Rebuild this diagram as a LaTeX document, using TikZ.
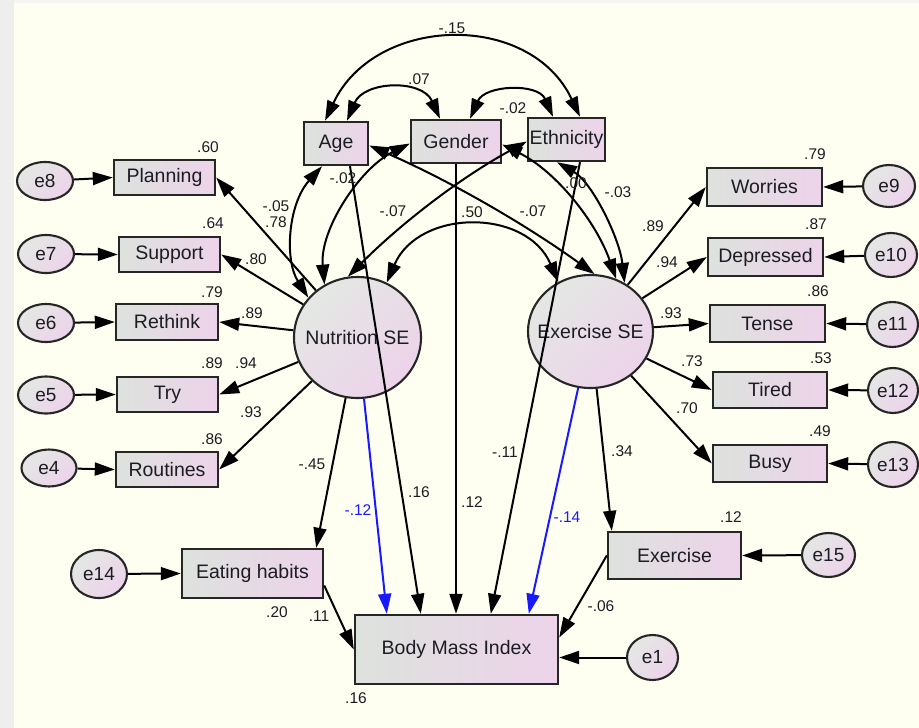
\documentclass[tikz,border=0pt]{standalone}
\usepackage{fontspec}
\setmainfont{Liberation Sans}
\usetikzlibrary{arrows.meta,shapes.geometric}

\definecolor{bg}{RGB}{254,255,240}
\definecolor{strip}{RGB}{238,238,238}
\definecolor{boxL}{RGB}{221,226,221}
\definecolor{boxR}{RGB}{237,211,234}
\definecolor{edge}{RGB}{38,38,38}
\definecolor{ink}{RGB}{28,28,36}
\definecolor{pathblue}{RGB}{25,25,255}

\tikzset{
  obs/.style={rectangle, draw=edge, line width=2.4pt, left color=boxL, right color=boxR,
              inner sep=0pt, text=ink, font=\fontsize{19.5}{22}\selectfont},
  lat/.style={ellipse, draw=edge, line width=2.1pt, top color=boxL!80!white, bottom color=boxR,
              shading angle=45, inner sep=0pt, text=ink, font=\fontsize{19.5}{22}\selectfont},
  err/.style={ellipse, draw=edge, line width=2.1pt, top color=boxL!80!white, bottom color=boxR,
              shading angle=45, inner sep=0pt, text=ink, font=\fontsize{19}{22}\selectfont},
  arr/.style={->, line width=2pt, draw=black},
  bluearr/.style={->, line width=2pt, draw=pathblue},
  cov/.style={<->, line width=2pt, draw=black},
  est/.style={inner sep=0pt, text=ink, font=\fontsize{15.5}{17}\selectfont},
  bluest/.style={est, text=pathblue},
}

\begin{document}
\begin{tikzpicture}[x=1pt, y=-1pt, >={Triangle[length=20pt,width=13pt]}]
\useasboundingbox (0,0) rectangle (919,728);
\fill[bg] (0,0) rectangle (919,728);
\fill[strip] (0,0) rectangle (14,728);
\fill[white!96!black] (14,0) rectangle (919,3);

% exogenous covariates
\node[obs, minimum width=64pt, minimum height=43pt] (age) at (336,143.5) {Age};
\node[obs, minimum width=90pt, minimum height=43pt] (gender) at (456,141.5) {Gender};
\node[obs, minimum width=77pt, minimum height=43pt] (eth) at (566.5,139.5) {Ethnicity};

% latent factors
\node[lat, minimum width=127pt, minimum height=121pt] (nut) at (357.5,337.5) {\makebox[0pt]{Nutrition SE}};
\node[lat, minimum width=125pt, minimum height=113pt] (ex) at (590.5,331.5) {\makebox[0pt]{Exercise SE}};

% nutrition indicators
\node[obs, minimum width=101pt, minimum height=35pt] (planning) at (164.5,177.5) {Planning};
\node[obs, minimum width=101pt, minimum height=35pt] (support) at (169.5,254.5) {Support};
\node[obs, minimum width=102pt, minimum height=36pt] (rethink) at (167,322) {Rethink};
\node[obs, minimum width=101pt, minimum height=35pt] (try) at (167.5,394.5) {Try};
\node[obs, minimum width=102pt, minimum height=35pt] (routines) at (167,469.5) {Routines};

% exercise indicators
\node[obs, minimum width=115pt, minimum height=38pt] (worries) at (764.5,187) {Worries};
\node[obs, minimum width=115pt, minimum height=38pt] (depressed) at (765.5,257) {Depressed};
\node[obs, minimum width=115pt, minimum height=37pt] (tense) at (767.5,323.5) {Tense};
\node[obs, minimum width=114pt, minimum height=36pt] (tired) at (770,390) {Tired};
\node[obs, minimum width=114pt, minimum height=37pt] (busy) at (770,463.5) {Busy};

% behaviours and outcome
\node[obs, minimum width=141pt, minimum height=49pt] (eat) at (252.5,573.5) {Eating habits};
\node[obs, minimum width=133pt, minimum height=47pt] (exer) at (674.5,555.5) {Exercise};
\node[obs, minimum width=203pt, minimum height=69pt] (bmi) at (456.5,649.5) {Body Mass Index};

% error terms
\node[err, minimum width=56pt, minimum height=38pt] (e8) at (45,181) {e8};
\node[err, minimum width=56pt, minimum height=38pt] (e7) at (46,254) {e7};
\node[err, minimum width=56pt, minimum height=38pt] (e6) at (46,323) {e6};
\node[err, minimum width=56pt, minimum height=37pt] (e5) at (46,395) {e5};
\node[err, minimum width=55pt, minimum height=37pt] (e4) at (49,468) {e4};
\node[err, minimum width=52pt, minimum height=42pt] (e9) at (889,186) {e9};
\node[err, minimum width=52pt, minimum height=44pt] (e10) at (891,255) {e10};
\node[err, minimum width=51pt, minimum height=45pt] (e11) at (892.5,324.5) {e11};
\node[err, minimum width=50pt, minimum height=45pt] (e12) at (893,390.5) {e12};
\node[err, minimum width=50pt, minimum height=45pt] (e13) at (893,464.5) {e13};
\node[err, minimum width=56pt, minimum height=48pt] (e14) at (99,574) {e14};
\node[err, minimum width=53pt, minimum height=44pt] (e15) at (828.5,555) {e15};
\node[err, minimum width=51pt, minimum height=45pt] (e1) at (652.5,657.5) {e1};

% error terms into indicators
\draw[arr] (e8) -- (planning.west);
\draw[arr] (e7) -- (support.west);
\draw[arr] (e6) -- (rethink.west);
\draw[arr] (e5) -- (try.west);
\draw[arr] (e4) -- (routines.west);
\draw[arr] (e9) -- (worries.east);
\draw[arr] (e10) -- (depressed.east);
\draw[arr] (e11) -- (tense.east);
\draw[arr] (e12) -- (tired.east);
\draw[arr] (e13) -- (busy.east);
\draw[arr] (e14) -- (eat.west);
\draw[arr] (e15) -- (exer.east);
\draw[arr] (e1) -- (e1 -| bmi.east);

% factor loadings
\draw[arr] (nut) -- (planning.east);
\draw[arr] (nut) -- (support.east);
\draw[arr] (nut) -- (rethink.east);
\draw[arr] (nut) -- (try.east);
\draw[arr] (nut) -- (routines.east);
\draw[arr] (ex) -- (worries.west);
\draw[arr] (ex) -- (depressed.west);
\draw[arr] (ex) -- (tense.west);
\draw[arr] (ex) -- (tired.west);
\draw[arr] (ex) -- (busy.west);

% structural paths
\draw[arr] (nut) -- ([xshift=-8pt]eat.north east);
\draw[arr] (ex) -- ([xshift=5pt]exer.north west);
\draw[bluearr] (nut) -- ([xshift=33pt]bmi.north west);
\draw[bluearr] (ex) -- ([xshift=175pt]bmi.north west);
\draw[arr] ([xshift=14pt]age.south) -- ([xshift=67pt]bmi.north west);
\draw[arr] (gender.south) -- (gender.south |- bmi.north);
\draw[arr] ([xshift=13.5pt]eth.south) -- ([xshift=137pt]bmi.north west);
\draw[arr] ([yshift=-12pt]eat.east) -- (bmi.west);
\draw[arr] (exer.west) -- ([yshift=12pt]bmi.east);

% covariances among covariates
\draw[cov] ([xshift=11pt]age.north) .. controls +(17,-40) and +(-18,-40) .. ([xshift=-16pt]gender.north);
\draw[cov] ([xshift=14pt]gender.north) .. controls +(15,-34) and +(-15,-34) .. ([xshift=-13.5pt]eth.north);
\draw[cov] ([xshift=-11pt]age.north) .. controls +(50,-106) and +(-50,-106) .. ([xshift=13.5pt]eth.north);

% covariances with the factors
\draw[cov] ([xshift=-14pt]age.south) .. controls +(-34,38) and +(-24,-38) .. (nut.141);
\draw[cov] ([yshift=-2pt]gender.west) .. controls +(-50,25) and +(-5,-55) .. (nut.122);
\draw[cov] ([yshift=-2pt]eth.west) .. controls +(-66,36) and +(54,-54) .. (nut.99);
\draw[cov] ([yshift=-2pt]age.east) .. controls +(80,35) and +(-71,-51) .. (ex.86);
\draw[cov] ([yshift=-3pt]gender.east) .. controls +(54,27) and +(-20,-57) .. (ex.64);
\draw[cov] ([xshift=-9.5pt]eth.south) .. controls +(35,20) and +(-5,-45) .. (ex.55);
\draw[cov] (nut.62) .. controls +(32,-74) and +(-32,-74) .. (ex.123);

% estimates
\node[est] (c1) at (452,28) {-.15};
\node[est] (c2) at (419,79) {.07};
\node[est] (c3) at (513,108) {-.02};
\node[est] (c4) at (276,206) {-.05};
\node[est] (c5) at (343,178) {-.02};
\node[est] (c6) at (393,211) {-.07};
\node[est] (c7) at (472,212) {.50};
\node[est] (c8) at (533,211) {-.07};
\node[est] (c9) at (576,183) {.00};
\node[est] (c10) at (618,192) {-.03};

\node[est] (r1) at (208,147) {.60};
\node[est] (r2) at (213,223) {.64};
\node[est] (r3) at (212,292) {.79};
\node[est] (r4) at (212,363) {.89};
\node[est] (r5) at (212,439) {.86};
\node[est] (l1) at (276,222) {.78};
\node[est] (l2) at (256,259) {.80};
\node[est] (l3) at (252,313) {.89};
\node[est] (l4) at (246,363) {.94};
\node[est] (l5) at (251,412) {.93};

\node[est] (r6) at (815,154) {.79};
\node[est] (r7) at (816,224) {.87};
\node[est] (r8) at (818,291) {.86};
\node[est] (r9) at (821,358) {.53};
\node[est] (r10) at (820,431) {.49};
\node[est] (l6) at (653,226) {.89};
\node[est] (l7) at (667,262) {.94};
\node[est] (l8) at (671,313) {.93};
\node[est] (l9) at (692,361) {.73};
\node[est] (l10) at (687,408) {.70};

\node[est] (p1) at (312,464) {-.45};
\node[bluest] (p2) at (358,510) {-.12};
\node[est] (p3) at (419,492) {.16};
\node[est] (p4) at (472,502) {.12};
\node[est] (p5) at (505,452) {-.11};
\node[bluest] (p6) at (567,517) {-.14};
\node[est] (p7) at (622,451) {.34};
\node[est] (p8) at (319,616) {.11};
\node[est] (p9) at (601,606) {-.06};
\node[est] (r11) at (277,612) {.20};
\node[est] (r12) at (731,517) {.12};
\node[est] (r13) at (356,698) {.16};
\end{tikzpicture}
\end{document}
